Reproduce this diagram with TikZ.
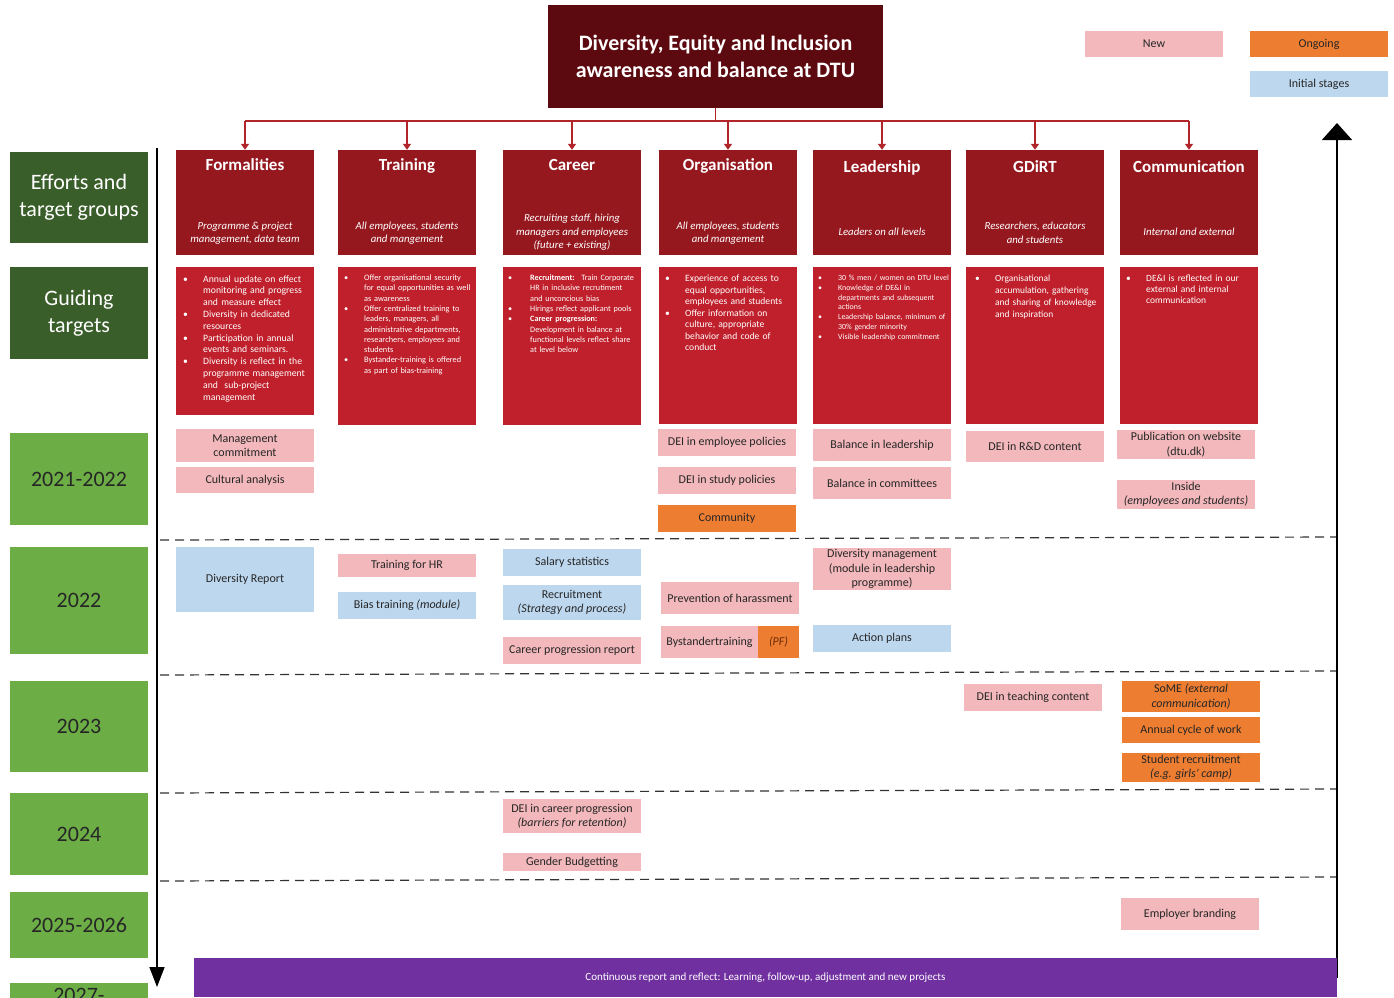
\documentclass[tikz,border=0pt]{standalone}
\usepackage{fontspec}
\setmainfont{Carlito}
\usetikzlibrary{arrows.meta}

\definecolor{titlec}{HTML}{5C0A10}
\definecolor{hdrc}{HTML}{95181F}
\definecolor{gdc}{HTML}{C0202B}
\definecolor{pinkc}{HTML}{F2B8BC}
\definecolor{orgc}{HTML}{ED7D31}
\definecolor{bluec}{HTML}{BDD7EE}
\definecolor{dgreen}{HTML}{3A5E2A}
\definecolor{lgreen}{HTML}{6CAE45}
\definecolor{purp}{HTML}{7030A0}
\definecolor{connc}{HTML}{B0242A}
\definecolor{txtc}{HTML}{262626}
\definecolor{pfc}{HTML}{6B2A08}

% bullet list used inside the guiding-target boxes
\newenvironment{gtargets}[1][20pt]{%
  \begin{list}{\textbullet}{%
    \setlength{\leftmargin}{#1}\setlength{\labelwidth}{#1}%
    \setlength{\labelsep}{0pt}\setlength{\itemsep}{0pt}%
    \setlength{\topsep}{0pt}\setlength{\parsep}{0pt}\setlength{\partopsep}{0pt}%
    \setlength{\itemindent}{0pt}\setlength{\listparindent}{0pt}%
    \def\makelabel##1{##1\hfil}}}%
  {\end{list}}

\tikzset{
  cellbase/.style={draw=none, inner xsep=1pt, inner ysep=0pt, minimum width=138pt,
    align=center, text=txtc, font=\fontsize{12}{14.5}\selectfont},
  newc/.style={cellbase, fill=pinkc},
  ongc/.style={cellbase, fill=orgc},
  inic/.style={cellbase, fill=bluec},
  hdrbox/.style={fill=hdrc, minimum width=138pt, minimum height=105pt, inner sep=0pt},
  hdrtitle/.style={text=white, font=\bfseries\fontsize{17}{20}\selectfont, anchor=base, inner sep=0pt},
  hdrsub/.style={text=white, font=\itshape\fontsize{10.8}{13.5}\selectfont, align=center, inner sep=0pt},
  gbox/.style={fill=gdc, minimum width=138pt, inner sep=0pt},
  gtext/.style={text=white, text width=150pt, inner sep=0pt, anchor=north west},
  sidebox/.style={minimum width=138pt, inner sep=0pt, align=center, font=\fontsize{22}{27}\selectfont},
  darkside/.style={sidebox, fill=dgreen, text=white},
  yearside/.style={sidebox, fill=lgreen, text=black!85},
  conn/.style={draw=connc, line width=1.3pt},
  period/.style={draw=black!80, line width=1.2pt, dash pattern=on 9pt off 6pt},
}

\begin{document}
\begin{tikzpicture}[x=1pt,y=-1pt]
\useasboundingbox (0,0) rectangle (1394,997);
\clip (0,0) rectangle (1394,997);
\fill[white] (0,0) rectangle (1394,997);

% ---------- title and legend ----------
\node[fill=titlec, minimum width=335pt, minimum height=103pt, inner sep=0pt, align=center,
      text=white, font=\bfseries\fontsize{22}{27}\selectfont] (title) at (715.5,56)
  {Diversity, Equity and Inclusion\\awareness and balance at DTU};

\node[newc, minimum height=26pt, font=\fontsize{12}{13}\selectfont] (newl) at (1154,44) {New};
\node[ongc, minimum height=26pt, font=\fontsize{12}{13}\selectfont] (ongl) at (1319,44) {Ongoing};
\node[inic, minimum height=26pt, font=\fontsize{12}{13}\selectfont] (inil) at (1319,84) {Initial stages};

% ---------- column headers ----------
\node[hdrbox] (h1) at (245,202.5) {};
\node[hdrbox] (h2) at (407,202.5) {};
\node[hdrbox] (h3) at (572,202.5) {};
\node[hdrbox] (h4) at (728,202.5) {};
\node[hdrbox] (h5) at (882,202.5) {};
\node[hdrbox] (h6) at (1035,202.5) {};
\node[hdrbox] (h7) at (1189,202.5) {};

\node[hdrtitle] (h1t) at (245,170.5) {Formalities};
\node[hdrtitle] (h2t) at (407,170.5) {Training};
\node[hdrtitle] (h3t) at (572,170.5) {Career};
\node[hdrtitle] (h4t) at (728,170.5) {Organisation};
\node[hdrtitle] (h5t) at (882,172) {Leadership};
\node[hdrtitle] (h6t) at (1035,172) {GDiRT};
\node[hdrtitle] (h7t) at (1189,172) {Communication};

\node[hdrsub] (h1s) at (245,233) {Programme \& project\\management, data team};
\node[hdrsub] (h2s) at (407,233) {All employees, students\\and mangement};
\node[hdrsub] (h3s) at (572,232.5) {Recruiting staff, hiring\\managers and employees\\(future + existing)};
\node[hdrsub] (h4s) at (728,233) {All employees, students\\and mangement};
\node[hdrsub] (h5s) at (882,232) {Leaders on all levels};
\node[hdrsub] (h6s) at (1035,233) {Researchers, educators\\and students};
\node[hdrsub] (h7s) at (1189,232) {Internal and external};

% connectors from the title to each column
\coordinate (bus) at (715.5,121);
\draw[conn] (title.south) -- (title.south |- bus);
\draw[conn] (h1.north |- bus) -- (h7.north |- bus);
\foreach \h in {h1,h2,h3,h4,h5,h6,h7}
  \draw[conn, -{Triangle[length=6pt,width=8pt]}] (\h.north |- bus) -- (\h.north);

% ---------- guiding targets ----------
\node[gbox, minimum height=148pt] (g1) at (245,341) {};
\node[gbox, minimum height=158pt] (g2) at (407,346) {};
\node[gbox, minimum height=158pt] (g3) at (572,346) {};
\node[gbox, minimum height=157pt] (g4) at (728,345.5) {};
\node[gbox, minimum height=157pt] (g5) at (882,345.5) {};
\node[gbox, minimum height=157pt] (g6) at (1035,345.5) {};
\node[gbox, minimum height=157pt] (g7) at (1189,345.5) {};

\node[gtext, font=\fontsize{9.7}{11.8}\selectfont] (g1t) at (183,270) {%
\begin{gtargets}[20pt]
\item Annual update on effect\\monitoring and progress\\and measure effect
\item Diversity in dedicated\\resources
\item Participation in annual\\events and seminars.
\item Diversity is reflect in the\\programme management\\and~ sub-project\\management
\end{gtargets}};

\node[gtext, font=\fontsize{8.3}{10.3}\selectfont] (g2t) at (344,270) {%
\begin{gtargets}[20pt]
\item Offer organisational security\\for equal opportunities as well\\as awareness
\item Offer centralized training to\\leaders, managers, all\\administrative departments,\\researchers, employees and\\students
\item Bystander-training is offered\\as part of bias-training
\end{gtargets}};

\node[gtext, font=\fontsize{8.2}{10.3}\selectfont] (g3t) at (508,270) {%
\begin{gtargets}[22pt]
\item \textbf{Recruitment:}~ Train Corporate\\HR in inclusive recrutiment\\and unconcious bias
\item Hirings reflect applicant pools
\item \textbf{Career progression:}\\Development in balance at\\functional levels reflect share\\at level below
\end{gtargets}};

\node[gtext, font=\fontsize{9.6}{11.5}\selectfont] (g4t) at (665,270) {%
\begin{gtargets}[20pt]
\item Experience of access to\\equal opportunities,\\employees and students
\item Offer information on\\culture, appropriate\\behavior and code of\\conduct
\end{gtargets}};

\node[gtext, font=\fontsize{7.9}{9.8}\selectfont] (g5t) at (818,270.5) {%
\begin{gtargets}[20pt]
\item 30 \% men / women on DTU level
\item Knowledge of DE\&I in\\departments and subsequent\\actions
\item Leadership balance, minimum of\\30\% gender minority
\item Visible leadership commitment
\end{gtargets}};

\node[gtext, font=\fontsize{9.4}{11.7}\selectfont] (g6t) at (975,270) {%
\begin{gtargets}[20pt]
\item Organisational\\accumulation, gathering\\and sharing of knowledge\\and inspiration
\end{gtargets}};

\node[gtext, font=\fontsize{9.5}{11.2}\selectfont] (g7t) at (1126,270) {%
\begin{gtargets}[20pt]
\item DE\&I is reflected in our\\external and internal\\communication
\end{gtargets}};

% ---------- left-hand row labels ----------
\node[darkside, minimum height=91pt] (eff) at (79,197.5) {Efforts and\\target groups};
\node[darkside, minimum height=92pt] (gt) at (79,313) {Guiding\\targets};
\node[yearside, minimum height=92pt] (y1) at (79,479) {2021-2022};
\node[yearside, minimum height=107pt] (y2) at (79,600.5) {2022};
\node[yearside, minimum height=91pt] (y3) at (79,726.5) {2023};
\node[yearside, minimum height=82pt] (y4) at (79,834) {2024};
\node[yearside, minimum height=66pt] (y5) at (79,925) {2025-2026};
\node[yearside, minimum height=60pt] (y6) at (79,1013) {};
\node[font=\fontsize{22}{27}\selectfont, text=black!85, inner sep=0pt] (y6t) at (79,995) {2027-};

% ---------- period separators ----------
\draw[period] (160,540) -- (1337,537);
\draw[period] (160,675) -- (1337,671);
\draw[period] (160,793) -- (1337,789);
\draw[period] (160,881) -- (1337,877);

% ---------- time arrows ----------
\coordinate (axtop) at (157,148);
\coordinate (axbot) at (157,987);
\draw[line width=1.6pt, -{Triangle[length=20pt,width=15pt]}] (axtop) -- (axbot);
\coordinate (rbot) at (1337,978);
\coordinate (rtop) at (1337,123);
\draw[line width=1.6pt, -{Triangle[length=17pt,width=30pt]}] (rbot) -- (rtop);

% ---------- continuous bar ----------
\node[fill=purp, minimum width=1143pt, minimum height=39pt, inner sep=0pt, text=white,
      font=\fontsize{11}{13}\selectfont] (cont) at (765.5,977.5)
  {Continuous report and reflect: Learning, follow-up, adjustment and new projects};

% ---------- Formalities ----------
\node[newc, minimum height=33pt] (mc) at (245,445.5) {Management\\commitment};
\node[newc, minimum height=26pt] (ca) at (245,480) {Cultural analysis};
\node[inic, minimum height=65pt] (dr) at (245,579.5) {Diversity Report};

% ---------- Training ----------
\node[newc, minimum height=23pt] (thr) at (407,565.5) {Training for HR};
\node[inic, minimum height=27pt] (bt) at (407,605.5) {Bias training \textit{(module)}};

% ---------- Career ----------
\node[inic, minimum height=27pt] (ss) at (572,562.5) {Salary statistics};
\node[inic, minimum height=35pt] (rec) at (572,602.5) {Recruitment\\\textit{(Strategy and process)}};
\node[newc, minimum height=27pt] (cpr) at (572,650.5) {Career progression report};
\node[newc, minimum height=34pt] (dcp) at (572,816) {DEI in career progression\\\textit{(barriers for retention)}};
\node[newc, minimum height=18pt] (gb) at (572,862) {Gender Budgetting};

% ---------- Organisation ----------
\node[newc, minimum height=27pt] (dep) at (727,442.5) {DEI in employee policies};
\node[newc, minimum height=27pt] (dsp) at (727,480.5) {DEI in study policies};
\node[ongc, minimum height=27pt] (com) at (727,518.5) {Community};
\node[newc, minimum height=32pt] (poh) at (730,598) {Prevention of harassment};
\node[newc, minimum height=32pt, minimum width=97pt] (byst) at (709.5,642) {Bystandertraining};
\node[ongc, minimum height=32pt, minimum width=41pt, text=pfc] (pf) at (778.5,642) {\textit{(PF)}};

% ---------- Leadership ----------
\node[newc, minimum height=32pt] (bil) at (882,445) {Balance in leadership};
\node[newc, minimum height=32pt] (bic) at (882,483) {Balance in committees};
\node[newc, minimum height=42pt] (dm) at (882,569) {Diversity management\\(module in leadership\\programme)};
\node[inic, minimum height=27pt] (ap) at (882,638.5) {Action plans};

% ---------- GDiRT ----------
\node[newc, minimum height=31pt] (rdc) at (1035,446.5) {DEI in R\&D content};
\node[newc, minimum height=27pt] (dtc) at (1033,697.5) {DEI in teaching content};

% ---------- Communication ----------
\node[newc, minimum height=29pt] (pub) at (1186,444.5) {Publication on website\\(dtu.dk)};
\node[newc, minimum height=29pt] (ins) at (1186,494.5) {Inside\\\textit{(employees and students)}};
\node[ongc, minimum height=31pt] (some) at (1191,696.5) {SoME \textit{(external}\\\textit{communication)}};
\node[ongc, minimum height=26pt] (acw) at (1191,730) {Annual cycle of work};
\node[ongc, minimum height=29pt] (sr) at (1191,767.5) {Student recruitment\\\textit{(e.g. girls' camp)}};
\node[newc, minimum height=32pt] (eb) at (1190,914) {Employer branding};

\end{tikzpicture}
\end{document}
